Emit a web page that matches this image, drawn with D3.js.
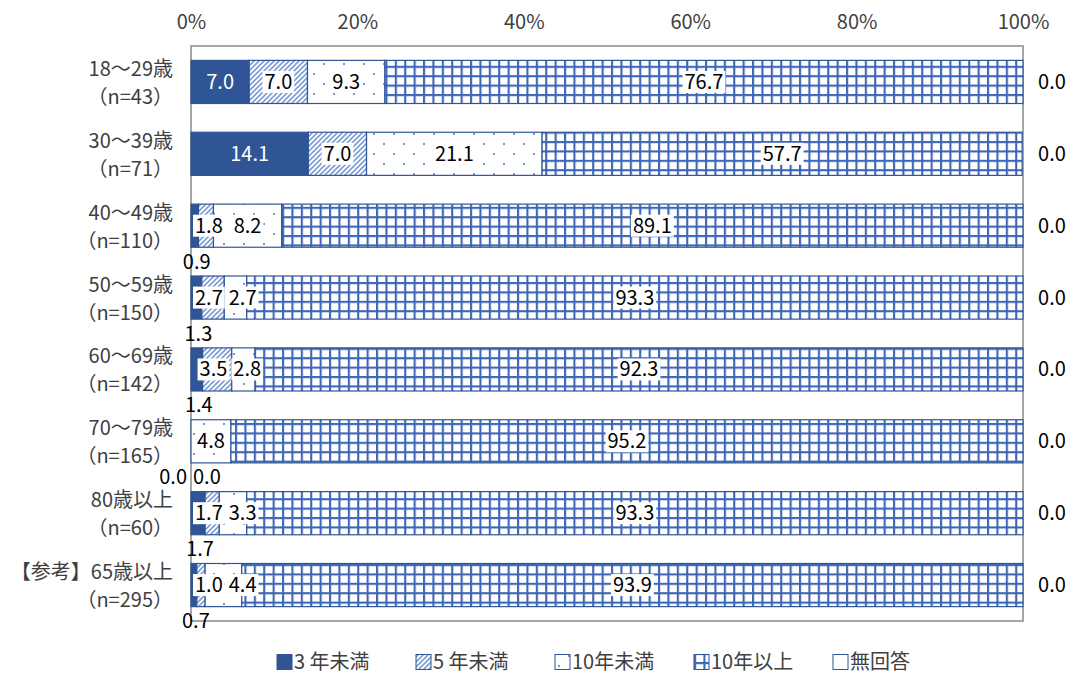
<!DOCTYPE html>
<html>
<head>
<meta charset="utf-8">
<script src="https://cdn.jsdelivr.net/npm/d3@7"></script>
<style>
  body { margin: 0; background: #fff; }
  text { font-family: "Noto Sans CJK JP", "Noto Sans", sans-serif; }
</style>
</head>
<body>
<svg id="chart" width="1073" height="676"></svg>
<script>
const categories = ["18～29歳", "30～39歳", "40～49歳", "50～59歳", "60～69歳", "70～79歳", "80歳以上", "【参考】65歳以上"];
const sampleSizes = ["（n=43）", "（n=71）", "（n=110）", "（n=150）", "（n=142）", "（n=165）", "（n=60）", "（n=295）"];
const seriesNames = ["3 年未満", "5 年未満", "10年未満", "10年以上", "無回答"];

const under3 = [7.0, 14.1, 0.9, 1.3, 1.4, 0.0, 1.7, 0.7];
const under5 = [7.0, 7.0, 1.8, 2.7, 3.5, 0.0, 1.7, 1.0];
const under10 = [9.3, 21.1, 8.2, 2.7, 2.8, 4.8, 3.3, 4.4];
const over10 = [76.7, 57.7, 89.1, 93.3, 92.3, 95.2, 93.3, 93.9];
const noAnswer = [0.0, 0.0, 0.0, 0.0, 0.0, 0.0, 0.0, 0.0];
const xTicks = [0, 20, 40, 60, 80, 100];

const seriesValues = [under3, under5, under10, over10, noAnswer];

const svg = d3.select("#chart");
const margin = { top: 46, right: 50, bottom: 55, left: 191 };
const W = 1073, H = 676;
const blue = "#2F5597";
const fs = 20;

const x = d3.scaleLinear().domain([0, 100]).range([margin.left, W - margin.right]);
const y = d3.scaleBand().domain(categories).range([margin.top, H - margin.bottom])
  .paddingInner(0.4).paddingOuter(0.2);

// patterns
const defs = svg.append("defs");
const diag = defs.append("pattern").attr("id", "p1").attr("patternUnits", "userSpaceOnUse")
  .attr("width", 5).attr("height", 5);
diag.append("rect").attr("width", 5).attr("height", 5).attr("fill", "#fff");
diag.append("path").attr("d", "M-1,6 L6,-1 M-1,1 L1,-1 M4,6 L6,4")
  .attr("stroke", "#7E9CD4").attr("stroke-width", 1.6);

const dots = defs.append("pattern").attr("id", "p2").attr("patternUnits", "userSpaceOnUse")
  .attr("width", 20).attr("height", 20);
dots.append("rect").attr("width", 20).attr("height", 20).attr("fill", "#fff");
dots.append("circle").attr("cx", 4).attr("cy", 4).attr("r", 1).attr("fill", "#4A72C0");
dots.append("circle").attr("cx", 14).attr("cy", 14).attr("r", 1).attr("fill", "#4A72C0");

const grid = defs.append("pattern").attr("id", "p3").attr("patternUnits", "userSpaceOnUse")
  .attr("width", 9.4).attr("height", 9.4);
grid.append("rect").attr("width", 9.4).attr("height", 9.4).attr("fill", "#fff");
grid.append("path").attr("d", "M1,0 V9.4 M0,1 H9.4")
  .attr("stroke", "#3D66B6").attr("stroke-width", 2.2);

const fills = [blue, "url(#p1)", "url(#p2)", "url(#p3)", "#fff"];

// stacked data
const rows = categories.map((c, i) => {
  let acc = 0;
  return seriesValues.map((s, k) => {
    const d = { cat: c, row: i, k, v: s[i], x0: acc, x1: acc + s[i] };
    acc += s[i];
    return d;
  });
});
const segs = rows.flat();

// frame
svg.append("rect")
  .attr("x", x(0)).attr("y", margin.top)
  .attr("width", x(100) - x(0)).attr("height", H - margin.bottom - margin.top)
  .attr("fill", "none").attr("stroke", "#a6a6a6").attr("stroke-width", 2);

// top axis
const ax = svg.append("g").attr("transform", `translate(0,${margin.top})`)
  .call(d3.axisTop(x).tickValues(xTicks).tickSize(0).tickPadding(17).tickFormat(d => d + "%"));
ax.select(".domain").remove();
ax.selectAll("text").attr("font-size", fs).attr("fill", "#404040")
  .style("font-family", '"Noto Sans CJK JP", sans-serif');

// bars
svg.append("g").selectAll("rect").data(segs.filter(d => d.v > 0)).join("rect")
  .attr("x", d => x(d.x0)).attr("y", d => y(d.cat))
  .attr("width", d => x(d.x1) - x(d.x0)).attr("height", y.bandwidth())
  .attr("fill", d => fills[d.k]).attr("stroke", blue).attr("stroke-width", 1.2);

// category labels (right aligned block)
const cl = svg.append("g").selectAll("g").data(categories).join("g")
  .attr("transform", (d) => `translate(173,${y(d) + y.bandwidth() / 2})`);
cl.append("text").attr("text-anchor", "end").attr("y", -6)
  .attr("font-size", fs).attr("fill", "#404040").text(d => d);
cl.append("text").attr("text-anchor", "end").attr("y", 22)
  .attr("font-size", fs).attr("fill", "#404040").text((d, i) => sampleSizes[i]);

// value labels
const lab = svg.append("g");
const fmt = d3.format(".1f");
rows.forEach(r => {
  const cy = y(r[0].cat) + y.bandwidth() / 2;
  const below = r.filter(d => (d.k === 0 && d.v < 3) || (d.k === 1 && d.v === 0));
  below.forEach((d, j) => {
    let tx = (x(d.x0) + x(d.x1)) / 2 + 2, anchor = "middle";
    if (below.length > 1) {
      anchor = j === 0 ? "end" : "start";
      tx = j === 0 ? x(d.x0) - 4 : x(d.x0) + 2;
    }
    lab.append("text").attr("x", tx).attr("y", cy + 36).attr("dy", "0.35em")
      .attr("text-anchor", anchor).attr("font-size", fs).attr("fill", "#000").text(fmt(d.v));
  });

  // right-side label for no answer
  const na = r[4];
  lab.append("text").attr("x", W - 21).attr("y", cy).attr("dy", "0.35em")
    .attr("text-anchor", "middle").attr("font-size", fs).attr("fill", "#000").text(fmt(na.v));

  // inside labels, pushed apart if they collide
  const inside = r.filter(d => d.k < 4 && !below.includes(d)).map(d => {
    const g = lab.append("g");
    const t = g.append("text").attr("y", cy).attr("dy", "0.35em")
      .attr("text-anchor", "middle").attr("font-size", fs)
      .attr("fill", d.k === 0 ? "#fff" : "#000").text(fmt(d.v));
    const w = t.node().getComputedTextLength() + 4;
    return { d, g, t, w, cx: (x(d.x0) + x(d.x1)) / 2 };
  });
  for (let it = 0; it < 20; it++) {
    for (let j = 1; j < inside.length; j++) {
      const a = inside[j - 1], b = inside[j];
      const need = (a.w + b.w) / 2 + 2 - (b.cx - a.cx);
      if (need > 0) { a.cx -= need / 2; b.cx += need / 2; }
    }
    if (inside.length) {
      const f = inside[0], minCx = x(0) + 2 + f.w / 2;
      if (f.d.k !== 0 && f.cx < minCx) f.cx = minCx;
    }
  }
  inside.forEach(o => {
    o.t.attr("x", o.cx);
    if (o.d.k !== 0) {
      o.g.insert("rect", "text").attr("x", o.cx - o.w / 2).attr("y", cy - 11)
        .attr("width", o.w).attr("height", 22).attr("fill", "#fff");
    }
  });
});

// legend
const lg = svg.append("g").selectAll("g").data(seriesNames).join("g")
  .attr("transform", (d, i) => `translate(${277 + i * 139},662)`);
lg.append("rect").attr("x", 0).attr("y", -7.5).attr("width", 15).attr("height", 15)
  .attr("fill", (d, i) => fills[i]).attr("stroke", blue).attr("stroke-width", 1);
lg.append("text").attr("x", 17).attr("dy", "0.35em").attr("font-size", fs)
  .attr("fill", "#404040").text(d => d);
</script>
</body>
</html>
